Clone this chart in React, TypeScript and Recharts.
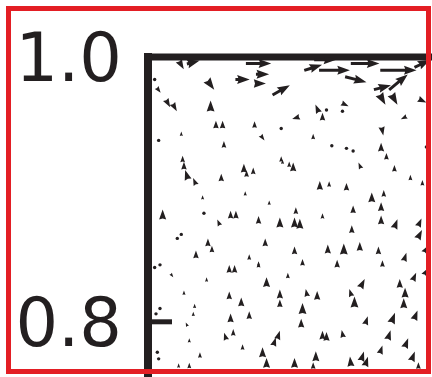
import React from 'react';
import { ScatterChart, Scatter, XAxis, YAxis } from 'recharts';

// Velocity samples near the lid: position (x, y) and velocity (u, v)
const arrowX = [
  0.025, 0.034, 0.083, 0.086, 0.084, 0.071, 0.047, 0.100, 0.005, 0.008,
  0.015, 0.020, 0.047, 0.051, 0.056, 0.080, 0.100, 0.025, 0.008, 0.086,
  0.057, 0.026, 0.100, 0.124, 0.140, 0.133, 0.163, 0.188, 0.206, 0.156,
  0.176, 0.188, 0.176, 0.185, 0.206, 0.127, 0.134, 0.131, 0.148, 0.146,
  0.111, 0.192, 0.124, 0.176, 0.138, 0.149, 0.154, 0.175, 0.179, 0.209,
  0.027, 0.029, 0.035, 0.055, 0.072, 0.074, 0.079, 0.101, 0.041, 0.073,
  0.091, 0.011, 0.042, 0.062, 0.066, 0.053, 0.083, 0.099, 0.022, 0.025,
  0.045, 0.048, 0.088, 0.036, 0.076, 0.083, 0.109, 0.106, 0.159, 0.185,
  0.197, 0.206, 0.129, 0.136, 0.149, 0.168, 0.177, 0.111, 0.110, 0.114,
  0.131, 0.154, 0.175, 0.175, 0.186, 0.204, 0.204, 0.153, 0.110, 0.135,
  0.147, 0.159, 0.173, 0.209, 0.116, 0.142, 0.176, 0.193, 0.005, 0.009,
  0.018, 0.044, 0.061, 0.065, 0.083, 0.089, 0.105, 0.027, 0.061, 0.070,
  0.099, 0.099, 0.035, 0.009, 0.006, 0.034, 0.062, 0.076, 0.029, 0.058,
  0.064, 0.098, 0.095, 0.031, 0.071, 0.007, 0.008, 0.039, 0.086, 0.089,
  0.023, 0.031, 0.161, 0.189, 0.200, 0.209, 0.119, 0.127, 0.152, 0.155,
  0.193, 0.192, 0.116, 0.115, 0.164, 0.184, 0.201, 0.131, 0.134, 0.146,
  0.181, 0.194, 0.175, 0.126, 0.110, 0.124, 0.152, 0.161, 0.164, 0.199,
  0.203,
];

const arrowY = [
  0.994, 0.996, 0.995, 0.987, 0.980, 0.983, 0.979, 0.975, 0.983, 0.975,
  0.965, 0.962, 0.963, 0.949, 0.949, 0.949, 0.946, 0.942, 0.937, 0.939,
  0.934, 0.923, 0.923, 0.992, 0.990, 0.998, 0.995, 0.990, 0.995, 0.983,
  0.977, 0.981, 0.968, 0.968, 0.967, 0.961, 0.960, 0.955, 0.964, 0.959,
  0.954, 0.954, 0.940, 0.944, 0.933, 0.931, 0.929, 0.932, 0.925, 0.932,
  0.918, 0.911, 0.906, 0.909, 0.916, 0.912, 0.914, 0.921, 0.894, 0.897,
  0.890, 0.881, 0.882, 0.881, 0.881, 0.875, 0.877, 0.875, 0.863, 0.866,
  0.860, 0.855, 0.860, 0.851, 0.849, 0.844, 0.917, 0.919, 0.918, 0.916,
  0.909, 0.905, 0.903, 0.904, 0.902, 0.894, 0.897, 0.884, 0.875, 0.874,
  0.880, 0.885, 0.887, 0.877, 0.874, 0.875, 0.866, 0.870, 0.854, 0.855,
  0.855, 0.857, 0.854, 0.855, 0.845, 0.844, 0.844, 0.849, 0.841, 0.843,
  0.835, 0.832, 0.840, 0.840, 0.843, 0.830, 0.835, 0.822, 0.820, 0.815,
  0.821, 0.814, 0.812, 0.810, 0.806, 0.806, 0.803, 0.805, 0.798, 0.789,
  0.792, 0.790, 0.785, 0.786, 0.781, 0.777, 0.772, 0.775, 0.777, 0.769,
  0.767, 0.767, 0.829, 0.829, 0.834, 0.838, 0.822, 0.820, 0.822, 0.815,
  0.822, 0.814, 0.810, 0.799, 0.801, 0.803, 0.805, 0.790, 0.789, 0.791,
  0.790, 0.784, 0.779, 0.774, 0.769, 0.767, 0.770, 0.774, 0.770, 0.774,
  0.767,
];

const arrowU = [
  0.045, 0.116, 0.23, 0.12, 0.11, 0.13, 0.066, 0.157, 0.014, 0.036,
  0.04, 0.04, 0, 0, 0, 0, 0, 0, 0, 0.036,
  0, 0, 0, 0.162, 0.28, 0.2, 0.26, 0.33, 0.144, 0.194,
  0.155, 0.169, 0.055, 0.055, 0.072, -0.032, 0, 0, 0.063, 0,
  -0.067, -0.054, 0, 0.016, 0, 0, 0.015, 0, 0, 0,
  0, -0.027, -0.028, 0, 0, 0, 0, 0, 0, 0,
  0, 0, 0, 0, 0, -0.024, 0, 0, 0, 0,
  0, 0, 0, 0, 0, 0, 0, 0, -0.024, 0,
  0, 0, 0, 0, 0, 0, 0, 0, 0, 0,
  0, 0, 0, 0, 0.031, 0.032, 0.041, 0, 0, 0,
  0, 0, 0, 0.04, 0, 0, 0, 0.024, 0, 0,
  0.024, 0, 0, 0, 0, 0, 0, 0, 0, 0,
  0, 0, 0, 0, 0, 0, 0, 0, -0.016, -0.021,
  0, 0.024, 0.024, 0, 0, 0, 0, 0, 0, 0,
  0, 0, 0.041, 0, 0.032, 0.04, -0.014, 0, -0.021, 0,
  0, 0, 0, 0, 0.024, 0.035, 0.032, 0, 0, -0.014,
  0.027, 0.032, 0.024, 0, 0, 0, -0.009, 0.027, 0.027, 0.032,
  0,
];

const arrowV = [
  -0.078, 0.031, 0, 0, 0, 0, -0.088, 0.09, 0.014, -0.048,
  -0.07, -0.07, 0.1, 0.07, 0.07, 0.06, 0.025, 0.04, 0.025, -0.048,
  0.06, 0.06, 0.05, 0.051, 0, 0, 0, 0, 0.069, -0.05,
  0.04, 0.141, -0.096, -0.096, -0.034, 0.074, 0.03, 0.07, -0.03, 0.03,
  -0.021, -0.026, 0.05, -0.078, 0.025, 0.03, -0.026, 0.08, 0.06, 0.03,
  0.07, 0.086, 0.064, 0.07, 0.08, 0.06, 0.06, 0.04, 0.04, 0.04,
  0.04, 0.09, 0.03, 0.07, 0.07, 0.055, 0.07, 0.09, 0.025, 0.03,
  0.07, 0.06, 0.07, 0.07, 0.05, 0.04, 0.08, 0.05, 0.055, 0.06,
  0.05, 0.05, 0.08, 0.05, 0.07, 0.09, 0.06, 0.06, 0.09, 0.09,
  0.05, 0.07, 0.08, 0.08, 0.085, 0.074, 0.081, 0.07, 0.07, 0.08,
  0.1, 0.08, 0.07, 0.07, 0.06, 0.07, 0.06, 0.076, 0.03, 0.03,
  -0.032, 0.04, 0.07, 0.07, 0.05, 0.09, 0.05, 0.04, 0.07, 0.08,
  0.08, 0.07, 0.04, 0.02, 0.03, 0.04, 0.08, 0.07, 0.037, 0.067,
  0.06, 0.076, 0.076, 0.04, 0.05, 0.025, 0.025, 0.05, 0.09, 0.09,
  0.04, 0.05, 0.081, 0.08, 0.074, 0.07, 0.069, 0.08, 0.067, 0.1,
  0.09, 0.09, 0.1, 0.08, 0.076, 0.094, 0.085, 0.08, 0.08, 0.069,
  0.086, 0.085, 0.076, 0.09, 0.09, 0.06, 0.089, 0.086, 0.086, 0.085,
  0.06,
];

const yTicks = [0.8, 1.0];
const xTicks = [0, 0.2];

const INK = '#231f20';
const ARROW_SCALE = 110; // px per velocity unit
const SHAFT = 3;
const HEAD_W = 3 * SHAFT;
const HEAD_L = 4.2 * SHAFT;
const HEAD_AXIS = 3.8 * SHAFT;

const fieldData = arrowX.map((x, i) => ({
  x,
  y: arrowY[i],
  u: arrowU[i],
  v: arrowV[i],
}));

function arrowPoints(len: number): number[][] {
  const h = len / 2;
  if (len >= HEAD_L) {
    return [
      [-h, -SHAFT / 2],
      [h - HEAD_AXIS, -SHAFT / 2],
      [h - HEAD_L, -HEAD_W / 2],
      [h, 0],
      [h - HEAD_L, HEAD_W / 2],
      [h - HEAD_AXIS, SHAFT / 2],
      [-h, SHAFT / 2],
    ];
  }
  // short vectors shrink down to just the head
  const s = len / HEAD_L;
  return [
    [h, 0],
    [-h, (HEAD_W * s) / 2],
    [-h + (HEAD_L - HEAD_AXIS) * s, 0],
    [-h, (-HEAD_W * s) / 2],
  ];
}

function Arrow(props: any) {
  const { cx, cy, payload } = props;
  if (cx == null || cy == null) return null;
  const len = Math.hypot(payload.u, payload.v) * ARROW_SCALE;
  if (len < 3.8) {
    return <circle cx={cx} cy={cy} r={1.7} fill={INK} />;
  }
  const angle = (Math.atan2(-payload.v, payload.u) * 180) / Math.PI;
  const pts = arrowPoints(len)
    .map(p => `${p[0].toFixed(2)},${p[1].toFixed(2)}`)
    .join(' ');
  return (
    <polygon
      points={pts}
      fill={INK}
      transform={`translate(${cx},${cy}) rotate(${angle})`}
    />
  );
}

export default function App() {
  return (
    <div
      style={{
        position: 'fixed',
        left: 0,
        top: 0,
        width: 432,
        height: 377,
        overflow: 'hidden',
        background: '#fff',
      }}
    >
      <ScatterChart
        width={481}
        height={388}
        margin={{ top: 0, right: 0, bottom: 0, left: 0 }}
      >
        <XAxis
          type="number"
          dataKey="x"
          orientation="top"
          domain={[0, 0.25]}
          ticks={xTicks}
          height={57}
          tick={false}
          tickSize={-24}
          tickLine={{ stroke: INK, strokeWidth: 5 }}
          axisLine={{ stroke: INK, strokeWidth: 7, strokeLinecap: 'square' }}
          allowDataOverflow
        />
        <YAxis
          type="number"
          dataKey="y"
          domain={[0.75, 1]}
          ticks={yTicks}
          width={148}
          tickSize={-24}
          tickMargin={50}
          tickFormatter={(v: number) => v.toFixed(1)}
          tick={{ fill: INK, fontSize: 67, fontFamily: 'DejaVu Sans' }}
          tickLine={{ stroke: INK, strokeWidth: 5 }}
          axisLine={{ stroke: INK, strokeWidth: 8, strokeLinecap: 'square' }}
          allowDataOverflow
        />
        <Scatter data={fieldData} shape={Arrow} isAnimationActive={false} />
      </ScatterChart>
      <div
        style={{
          position: 'absolute',
          left: 6,
          top: 6,
          width: 425,
          height: 368,
          boxSizing: 'border-box',
          border: '5px solid #e31e24',
          pointerEvents: 'none',
        }}
      />
    </div>
  );
}
